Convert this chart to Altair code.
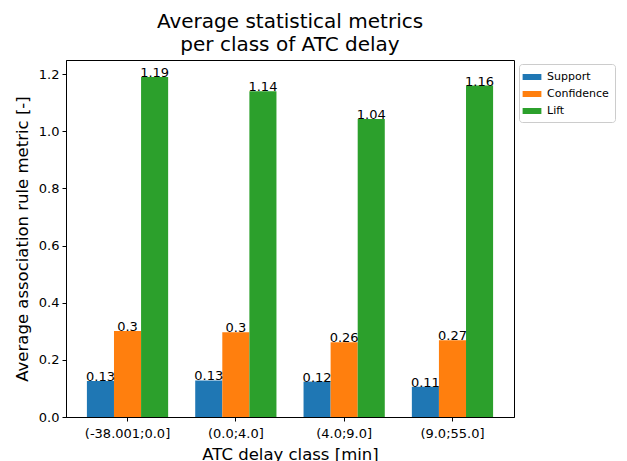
import altair as alt
import pandas as pd

categories = ["(-38.001;0.0]", "(0.0;4.0]", "(4.0;9.0]", "(9.0;55.0]"]
series = ["Support", "Confidence", "Lift"]
support = [0.126, 0.128, 0.124, 0.106]
confidence = [0.301, 0.297, 0.262, 0.269]
lift = [1.19, 1.14, 1.043, 1.16]
colors = ["#1f77b4", "#ff7f0e", "#2ca02c"]
y_ticks = [0.0, 0.2, 0.4, 0.6, 0.8, 1.0, 1.2]

rows = []
for name, vals in zip(series, [support, confidence, lift]):
    for c, v in zip(categories, vals):
        rows.append({"cls": c, "Series": name, "value": v, "label": str(round(v, 2))})
df = pd.DataFrame(rows)

FONT = "DejaVu Sans"

base = alt.Chart(df).encode(
    x=alt.X("cls:N", sort=categories,
            scale=alt.Scale(paddingInner=0.25, paddingOuter=0.193),
            axis=alt.Axis(title="ATC delay class [min]", labelAngle=0, labelPadding=6, titlePadding=6)),
    xOffset=alt.XOffset("Series:N", sort=series, scale=alt.Scale(domain=series, paddingInner=0, paddingOuter=0)),
    y=alt.Y("value:Q", scale=alt.Scale(domain=[0, 1.2495], nice=False, zero=True),
            axis=alt.Axis(title="Average association rule metric [-]", values=y_ticks, format=".1f")),
)

bars = base.mark_bar(strokeWidth=0).encode(
    color=alt.Color("Series:N", sort=series,
                    scale=alt.Scale(domain=series, range=colors),
                    legend=alt.Legend(title=None, orient="none", legendX=453, legendY=4,
                                      symbolType="M-1.4,-0.45H1.4V0.45H-1.4Z", symbolSize=180,
                                      symbolStrokeWidth=0, labelFontSize=11, labelFont=FONT,
                                      labelColor="black", rowPadding=5, symbolOffset=0,
                                      padding=6, strokeColor="#cccccc", fillColor="white",
                                      cornerRadius=3, labelOffset=8))
)

texts = base.mark_text(baseline="alphabetic", align="center", fontSize=13, font=FONT, color="black").encode(
    text="label:N"
)

chart = alt.layer(bars, texts).properties(
    width=448, height=357,
    title=alt.Title(["Average statistical metrics", "per class of ATC delay"],
                    fontSize=20, font=FONT, fontWeight="normal", color="black",
                    lineHeight=23, anchor="middle", offset=5),
    autosize=alt.AutoSizeParams(type="none"),
    padding={"left": 58, "top": 52, "right": 103, "bottom": 44},
).configure_view(
    stroke="black", strokeWidth=1
).configure_axis(
    labelFont=FONT, titleFont=FONT, labelFontSize=13, titleFontSize=16.5,
    labelColor="black", titleColor="black", domainColor="black", tickColor="black",
    tickSize=4, grid=False, titleFontWeight="normal", labelPadding=3,
).configure_axisY(
    titlePadding=8,
)

chart.save("out.html", embed_options={"renderer": "svg", "actions": False})
